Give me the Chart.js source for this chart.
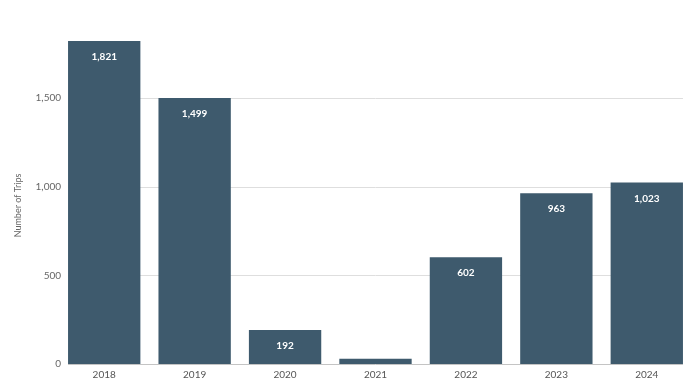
<!DOCTYPE html>
<html><head><meta charset="utf-8">
<script src="https://cdn.jsdelivr.net/npm/chart.js@4"></script>
<style>html,body{margin:0;padding:0;background:#fff}#wrap{width:700px;height:390px}</style>
</head><body><div id="wrap"><canvas id="c"></canvas></div>
<script>
const years = ['2018','2019','2020','2021','2022','2023','2024'];
const trips = [1821, 1499, 192, 30, 602, 963, 1023];
const yTicks = [0, 500, 1000, 1500];
const yTitle = 'Number of Trips';

const gridPlugin = {
  id: 'spanGrid',
  beforeDatasetsDraw(chart) {
    const ctx = chart.ctx;
    const bars = chart.getDatasetMeta(0).data;
    const first = bars[0], last = bars[bars.length - 1];
    const x0 = first.x - first.width / 2, x1 = last.x + last.width / 2;
    const y = chart.scales.y;
    ctx.save();
    ctx.lineWidth = 1;
    yTicks.forEach(v => {
      const py = Math.round(y.getPixelForValue(v)) + 0.5;
      ctx.strokeStyle = v === 0 ? '#c4c4c4' : '#dedede';
      ctx.beginPath(); ctx.moveTo(x0, py); ctx.lineTo(x1, py); ctx.stroke();
    });
    // y tick labels
    ctx.fillStyle = '#666';
    ctx.font = '10px Lato, sans-serif';
    ctx.textAlign = 'right';
    ctx.textBaseline = 'middle';
    yTicks.forEach(v => {
      ctx.fillText(v.toLocaleString('en-US'), x0 - 7, y.getPixelForValue(v));
    });
    // y title
    ctx.font = '9px Lato, sans-serif';
    ctx.textAlign = 'center';
    ctx.translate(18, (chart.chartArea.top + chart.chartArea.bottom) / 2 + 3);
    ctx.rotate(-Math.PI / 2);
    ctx.fillText(yTitle, 0, 0);
    ctx.restore();
  }
};

const labelPlugin = {
  id: 'barLabels',
  afterDatasetsDraw(chart) {
    const ctx = chart.ctx;
    const meta = chart.getDatasetMeta(0);
    ctx.save();
    ctx.fillStyle = '#ffffff';
    ctx.font = 'bold 10px Lato, "Open Sans", sans-serif';
    ctx.textAlign = 'center';
    ctx.textBaseline = 'middle';
    meta.data.forEach((bar, i) => {
      const h = bar.base - bar.y;
      if (h < 30) return;
      ctx.fillText(trips[i].toLocaleString('en-US'), bar.x, bar.y + 16);
    });
    ctx.restore();
  }
};

new Chart(document.getElementById('c'), {
  type: 'bar',
  data: { labels: years, datasets: [{ data: trips, backgroundColor: '#3e5a6d', barPercentage: 0.8, categoryPercentage: 1.0 }] },
  options: {
    responsive: true, maintainAspectRatio: false, animation: false,
    layout: { padding: { top: 41, right: 8, bottom: 4, left: 59 } },
    plugins: { legend: { display: false }, tooltip: { enabled: false } },
    scales: {
      x: {
        grid: { display: false, drawTicks: false },
        border: { display: false },
        ticks: { color: '#555', font: { family: 'Lato, sans-serif', size: 10 }, padding: 5 }
      },
      y: {
        min: 0, max: Math.max(...trips),
        afterBuildTicks(axis) { axis.ticks = yTicks.map(v => ({ value: v })); },
        grid: { display: false, drawTicks: false },
        border: { display: false },
        ticks: { display: false },
        title: { display: false }
      }
    }
  },
  plugins: [gridPlugin, labelPlugin]
});
</script></body></html>
